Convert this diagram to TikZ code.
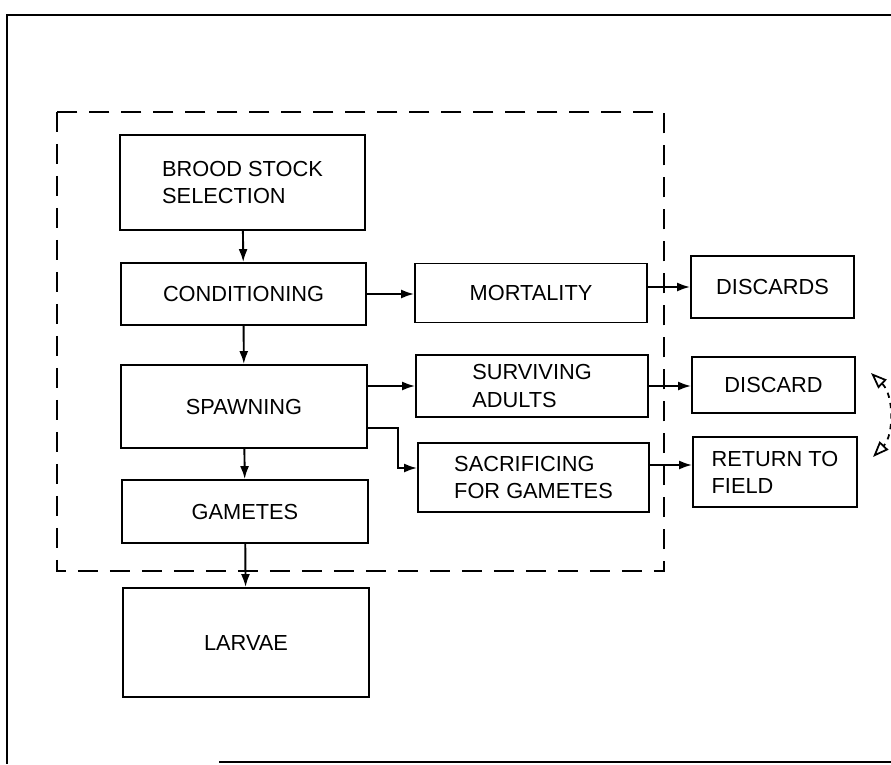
\documentclass[tikz,border=0pt]{standalone}
\usepackage{fontspec}
\setmainfont{Liberation Sans}
\usetikzlibrary{arrows.meta}
\begin{document}
\begin{tikzpicture}[x=0.02cm, y=-0.02cm]
\tikzset{etape/.style={draw, line width=1.1pt, inner sep=0pt, align=left, font=\fontsize{12.4}{15.4}\selectfont}}
\tikzset{fleche/.style={line width=1.1pt, -{Latex[length=2.6mm, width=1.8mm]}}}
\useasboundingbox (0,0) rectangle (891,764);
\draw[line width=1.6pt] (891,15) -- (7,15) -- (7,764);
\draw[line width=1.6pt] (219,762) -- (891,762);
\draw[line width=1.1pt, dash pattern=on 0.4cm off 0.24cm] (57,112) rectangle (664,571);
\node[etape, minimum width=4.9cm, minimum height=1.9cm] (Brood) at (242.5,182.5) {BROOD STOCK\\SELECTION};
\node[etape, minimum width=4.9cm, minimum height=1.24cm] (Cond) at (243.5,294) {CONDITIONING};
\node[etape, minimum width=4.92cm, minimum height=1.66cm] (Spawn) at (244,406.5) {SPAWNING};
\node[etape, minimum width=4.92cm, minimum height=1.26cm] (Gam) at (245,511.5) {GAMETES};
\node[etape, minimum width=4.92cm, minimum height=2.18cm] (Larvae) at (246,642.5) {LARVAE};
\node[etape, minimum width=4.64cm, minimum height=1.18cm] (Mort) at (531,293) {MORTALITY};
\node[etape, minimum width=4.64cm, minimum height=1.24cm] (Surv) at (532,386) {SURVIVING\\ADULTS};
\node[etape, minimum width=4.62cm, minimum height=1.38cm] (Sacr) at (533.5,477.5) {SACRIFICING\\FOR GAMETES};
\node[etape, minimum width=3.26cm, minimum height=1.24cm] (Discards) at (772.5,287) {DISCARDS};
\node[etape, minimum width=3.26cm, minimum height=1.12cm] (Discard) at (773.5,385) {DISCARD};
\node[etape, minimum width=3.28cm, minimum height=1.4cm] (Return) at (775,472) {RETURN TO\\FIELD};
\draw[fleche] (Brood) -- (Cond);
\draw[fleche] (Cond) -- (Spawn);
\draw[fleche] (Spawn) -- (Gam);
\draw[fleche] (Gam) -- (Larvae);
\draw[fleche] (Cond.east) -- (Cond.east -| Mort.west);
\draw[fleche] (Mort.east |- Discards) -- (Discards.west);
\draw[fleche] (Spawn.east |- Surv) -- (Surv.west);
\draw[fleche] (Surv.east) -- (Surv.east -| Discard.west);
\draw[fleche] ([yshift=0.42cm]Spawn.south east) -| ([xshift=-0.38cm, yshift=0.19cm]Sacr.west) -- ([yshift=0.19cm]Sacr.west);
\draw[fleche] ([yshift=0.25cm]Sacr.east) -- ([yshift=0.14cm]Return.west);
\coordinate (RotA) at (871,373);
\coordinate (RotB) at (873,457);
\draw[line width=1pt, dashed, {Triangle[open, length=3.2mm, width=2.4mm]}-{Triangle[open, length=3.2mm, width=2.4mm]}] (RotA) .. controls (894,395) and (894,435) .. (RotB);
\end{tikzpicture}
\end{document}
